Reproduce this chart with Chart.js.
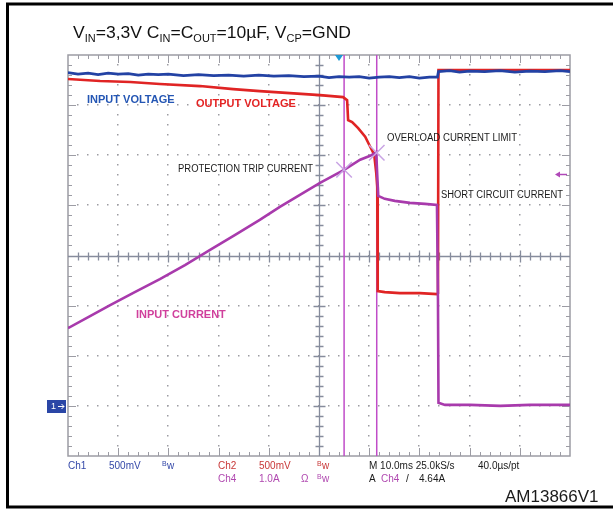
<!DOCTYPE html>
<html>
<head>
<meta charset="utf-8">
<script src="https://cdn.jsdelivr.net/npm/chart.js@4.4.1/dist/chart.umd.min.js"></script>
<style>
  html, body { margin: 0; padding: 0; background: #fff; }
  #wrap { width: 613px; height: 509px; }
</style>
</head>
<body>
<div id="wrap"><canvas id="scope" width="613" height="509"></canvas></div>
<script>
// time axis in ms (10 ms/div, 10 divs), levels in screen divisions (-4 .. 4)
const inVoltTime = [0, 2, 4, 6, 8, 10, 12, 14, 16, 18, 20, 23, 26, 29, 32, 35, 38, 41, 44, 47, 50, 52, 54, 56, 58, 60, 62, 64, 66, 68, 70, 72, 73.6, 73.8, 76, 78, 80, 83, 86, 89, 92, 95, 98, 100];
const inVoltLevel = [3.65, 3.62, 3.64, 3.61, 3.64, 3.62, 3.63, 3.60, 3.62, 3.61, 3.62, 3.59, 3.61, 3.59, 3.60, 3.58, 3.60, 3.58, 3.59, 3.57, 3.58, 3.55, 3.57, 3.56, 3.57, 3.54, 3.56, 3.57, 3.55, 3.57, 3.54, 3.56, 3.56, 3.67, 3.69, 3.66, 3.68, 3.67, 3.69, 3.66, 3.68, 3.67, 3.69, 3.67];

const outVoltTime = [0, 6.4, 12.4, 18.3, 26.3, 32.9, 38.2, 44.2, 50.2, 54.8, 55.6, 55.8, 56.6, 57.8, 59.2, 60.2, 61.0, 61.4, 61.6, 61.7, 63.1, 66.1, 70.1, 73.5, 73.7, 73.8, 76.1, 86.1, 100];
const outVoltLevel = [3.52, 3.48, 3.46, 3.42, 3.38, 3.32, 3.28, 3.24, 3.20, 3.16, 3.10, 2.70, 2.66, 2.54, 2.37, 2.17, 2.01, 1.65, 1.37, -0.71, -0.73, -0.75, -0.75, -0.77, -0.75, 3.70, 3.70, 3.70, 3.70];

const inCurrTime = [0, 4.4, 8.4, 13.3, 18.3, 23.3, 28.3, 33.3, 38.2, 42.2, 46.2, 50.2, 55.0, 58.2, 60.2, 61.4, 61.6, 61.8, 63.1, 65.1, 68.1, 71.1, 73.5, 73.7, 73.8, 75.1, 80.1, 86.1, 92.0, 100];
const inCurrLevel = [-1.45, -1.21, -0.99, -0.73, -0.47, -0.19, 0.11, 0.41, 0.71, 0.97, 1.21, 1.45, 1.71, 1.91, 1.99, 2.06, 1.61, 1.19, 1.13, 1.09, 1.05, 1.03, 1.01, -0.89, -2.94, -2.98, -2.98, -3.00, -2.98, -2.98];

// cursor positions and the two marked current levels
const cursorTime = [55.0, 61.5];
const markLevel = [1.71, 2.05];

const pts = (t, v) => t.map((x, i) => ({ x, y: v[i] }));

const scopeGrid = {
  id: 'scopeGrid',
  beforeDatasetsDraw(chart) {
    const { ctx, chartArea: a, scales: { x, y } } = chart;
    ctx.save();
    // dotted graticule
    ctx.fillStyle = '#9c9ca2';
    for (let i = 1; i < 10; i++) {
      if (i === 5) continue;
      const px = Math.round(x.getPixelForValue(i * 10));
      for (let j = 1; j < 40; j++) {
        const py = Math.round(y.getPixelForValue(-4 + j * 0.2));
        ctx.fillRect(px - 1, py - 1, 1.5, 1.5);
      }
    }
    for (let k = 1; k < 8; k++) {
      if (k === 4) continue;
      const py = Math.round(y.getPixelForValue(-4 + k));
      for (let j = 1; j < 50; j++) {
        const px = Math.round(x.getPixelForValue(j * 2));
        ctx.fillRect(px - 1, py - 1, 1.5, 1.5);
      }
    }
    // frame with inward ticks
    ctx.strokeStyle = '#9c9ca4';
    ctx.lineWidth = 1.5;
    ctx.strokeRect(a.left, a.top, a.right - a.left, a.bottom - a.top);
    ctx.lineWidth = 1;
    ctx.beginPath();
    for (let j = 1; j < 50; j++) {
      const px = Math.round(x.getPixelForValue(j * 2)) + 0.5;
      const len = j % 5 === 0 ? 8 : 4;
      ctx.moveTo(px, a.top); ctx.lineTo(px, a.top + len);
      ctx.moveTo(px, a.bottom); ctx.lineTo(px, a.bottom - len);
    }
    for (let j = 1; j < 40; j++) {
      const py = Math.round(y.getPixelForValue(-4 + j * 0.2)) + 0.5;
      const len = j % 5 === 0 ? 8 : 4;
      ctx.moveTo(a.left, py); ctx.lineTo(a.left + len, py);
      ctx.moveTo(a.right, py); ctx.lineTo(a.right - len, py);
    }
    ctx.stroke();
    // centre cross with ticks
    const cx = Math.round(x.getPixelForValue(50)) + 0.5;
    const cy = Math.round(y.getPixelForValue(0)) + 0.5;
    ctx.strokeStyle = '#868c9c';
    ctx.lineWidth = 1.3;
    ctx.beginPath();
    ctx.moveTo(cx, a.top); ctx.lineTo(cx, a.bottom);
    ctx.moveTo(a.left, cy); ctx.lineTo(a.right, cy);
    for (let j = 1; j < 50; j++) {
      const px = Math.round(x.getPixelForValue(j * 2)) + 0.5;
      const len = j % 5 === 0 ? 6 : 4;
      ctx.moveTo(px, cy - len); ctx.lineTo(px, cy + len);
    }
    for (let j = 1; j < 40; j++) {
      const py = Math.round(y.getPixelForValue(-4 + j * 0.2)) + 0.5;
      const len = j % 5 === 0 ? 6 : 4;
      ctx.moveTo(cx - len, py); ctx.lineTo(cx + len, py);
    }
    ctx.stroke();
    ctx.restore();
  }
};

function label(ctx, text, x, y, color, font, width) {
  ctx.fillStyle = color;
  ctx.font = font;
  ctx.textBaseline = 'middle';
  ctx.textAlign = 'left';
  if (width) ctx.fillText(text, x, y, width);
  else ctx.fillText(text, x, y);
}

const scopeText = {
  id: 'scopeText',
  afterDraw(chart) {
    const { ctx, chartArea: a, scales: { x, y } } = chart;
    ctx.save();

    // outer black frame
    ctx.strokeStyle = '#000';
    ctx.lineWidth = 3;
    ctx.beginPath();
    ctx.moveTo(613, 4); ctx.lineTo(7.5, 4); ctx.lineTo(7.5, 507); ctx.lineTo(613, 507);
    ctx.stroke();

    // title with subscripts
    const parts = [['V', 0], ['IN', 1], ['=3,3V C', 0], ['IN', 1], ['=C', 0], ['OUT', 1], ['=10\u00b5F, V', 0], ['CP', 1], ['=GND', 0]];
    const big = "16px 'Liberation Sans', Arial, sans-serif";
    const small = "10px 'Liberation Sans', Arial, sans-serif";
    let total = 0;
    parts.forEach(([s, sub]) => { ctx.font = sub ? small : big; total += ctx.measureText(s).width; });
    const k = 278 / total;
    ctx.save();
    ctx.translate(73, 38);
    ctx.scale(k, 1);
    ctx.fillStyle = '#111';
    ctx.textBaseline = 'alphabetic';
    let tx = 0;
    parts.forEach(([s, sub]) => {
      ctx.font = sub ? small : big;
      ctx.fillText(s, tx, sub ? 4 : 0);
      tx += ctx.measureText(s).width;
    });
    ctx.restore();

    // trigger position marker
    ctx.fillStyle = '#1e9ad6';
    ctx.beginPath();
    ctx.moveTo(335, a.top); ctx.lineTo(343, a.top); ctx.lineTo(339, a.top + 6);
    ctx.closePath();
    ctx.fill();

    // trigger level arrow on the right
    const ly = Math.round(y.getPixelForValue(1.63)) + 0.5;
    ctx.strokeStyle = '#b048b8';
    ctx.fillStyle = '#b048b8';
    ctx.lineWidth = 1.5;
    ctx.beginPath();
    ctx.moveTo(559, ly); ctx.lineTo(567, ly);
    ctx.stroke();
    ctx.beginPath();
    ctx.moveTo(555, ly); ctx.lineTo(560, ly - 3); ctx.lineTo(560, ly + 3);
    ctx.closePath();
    ctx.fill();

    // channel 1 ground marker
    const gy = Math.round(y.getPixelForValue(-3));
    ctx.fillStyle = '#2a46a6';
    ctx.fillRect(47, gy - 6, 19, 13);
    ctx.fillStyle = '#fff';
    ctx.font = "9px 'Liberation Sans', Arial, sans-serif";
    ctx.textBaseline = 'middle';
    ctx.fillText('1', 51, gy + 0.5);
    ctx.strokeStyle = '#fff';
    ctx.lineWidth = 1;
    ctx.beginPath();
    ctx.moveTo(58, gy + 0.5); ctx.lineTo(64, gy + 0.5);
    ctx.moveTo(61.5, gy - 2); ctx.lineTo(64, gy + 0.5); ctx.lineTo(61.5, gy + 3);
    ctx.stroke();

    // trace annotations
    const bold = "bold 11px 'Liberation Sans', Arial, sans-serif";
    const reg = "10px 'Liberation Sans', Arial, sans-serif";
    label(ctx, 'INPUT VOLTAGE', 87, 100, '#2456b4', bold, 90);
    label(ctx, 'OUTPUT VOLTAGE', 196, 104, '#e42424', bold, 103);
    label(ctx, 'OVERLOAD CURRENT LIMIT', 387, 138, '#1a1a1a', reg, 130);
    label(ctx, 'PROTECTION TRIP CURRENT', 178, 169, '#1a1a1a', reg, 135);
    label(ctx, 'SHORT CIRCUIT CURRENT', 441, 195, '#1a1a1a', reg, 122);
    label(ctx, 'INPUT CURRENT', 136, 315, '#d0409c', bold, 90);

    // scope readout
    const ro = "10px 'Liberation Sans', Arial, sans-serif";
    const bw = (bx, by, c) => {
      label(ctx, 'B', bx, by - 2, c, "7px 'Liberation Sans', Arial, sans-serif");
      label(ctx, 'w', bx + 5, by, c, ro);
    };
    label(ctx, 'Ch1', 68, 466, '#3448a8', ro);
    label(ctx, '500mV', 109, 466, '#3448a8', ro);
    bw(162, 466, '#3448a8');
    label(ctx, 'Ch2', 218, 466, '#c83838', ro);
    label(ctx, '500mV', 259, 466, '#c83838', ro);
    bw(317, 466, '#c83838');
    label(ctx, 'Ch4', 218, 479, '#b048b0', ro);
    label(ctx, '1.0A', 259, 479, '#b048b0', ro);
    label(ctx, '\u03a9', 301, 479, '#b048b0', ro);
    bw(317, 479, '#b048b0');
    label(ctx, 'M 10.0ms 25.0kS/s', 369, 466, '#1a1a1a', ro, 91);
    label(ctx, '40.0\u00b5s/pt', 478, 466, '#1a1a1a', ro);
    label(ctx, 'A', 369, 479, '#1a1a1a', ro);
    label(ctx, 'Ch4', 381, 479, '#b048b0', ro);
    label(ctx, '/', 406, 479, '#1a1a1a', ro);
    label(ctx, '4.64A', 419, 479, '#1a1a1a', ro);

    label(ctx, 'AM13866V1', 505, 497, '#1a1a1a', "17px 'Liberation Sans', Arial, sans-serif", 102);
    ctx.restore();
  }
};

const ctx = document.getElementById('scope').getContext('2d');
new Chart(ctx, {
  type: 'line',
  data: {
    datasets: [
      {
        label: 'marks',
        data: pts(cursorTime, markLevel),
        showLine: false,
        pointStyle: 'crossRot',
        pointRadius: 11,
        pointBorderColor: '#c9a4e4',
        pointBorderWidth: 1.5,
        pointBackgroundColor: 'transparent'
      },
      {
        label: 'Input current',
        data: pts(inCurrTime, inCurrLevel),
        borderColor: '#a83aac',
        borderWidth: 2.6,
        pointRadius: 0
      },
      {
        label: 'Input voltage',
        data: pts(inVoltTime, inVoltLevel),
        borderColor: '#2342a4',
        borderWidth: 2.8,
        pointRadius: 0
      },
      {
        label: 'Output voltage',
        data: pts(outVoltTime, outVoltLevel),
        borderColor: '#e02424',
        borderWidth: 2.6,
        pointRadius: 0
      },
      {
        label: 'cursor 1',
        data: [{ x: cursorTime[0], y: -4 }, { x: cursorTime[0], y: 4 }],
        borderColor: '#c04cc8',
        borderWidth: 1.5,
        pointRadius: 0
      },
      {
        label: 'cursor 2',
        data: [{ x: cursorTime[1], y: -4 }, { x: cursorTime[1], y: 4 }],
        borderColor: '#c04cc8',
        borderWidth: 1.5,
        pointRadius: 0
      }
    ]
  },
  options: {
    responsive: false,
    animation: false,
    events: [],
    layout: { padding: { left: 68, top: 55, right: 43, bottom: 53 } },
    elements: { line: { tension: 0 } },
    scales: {
      x: { type: 'linear', min: 0, max: 100, display: false },
      y: { type: 'linear', min: -4, max: 4, display: false }
    },
    plugins: {
      legend: { display: false },
      tooltip: { enabled: false }
    }
  },
  plugins: [scopeGrid, scopeText]
});
</script>
</body>
</html>
